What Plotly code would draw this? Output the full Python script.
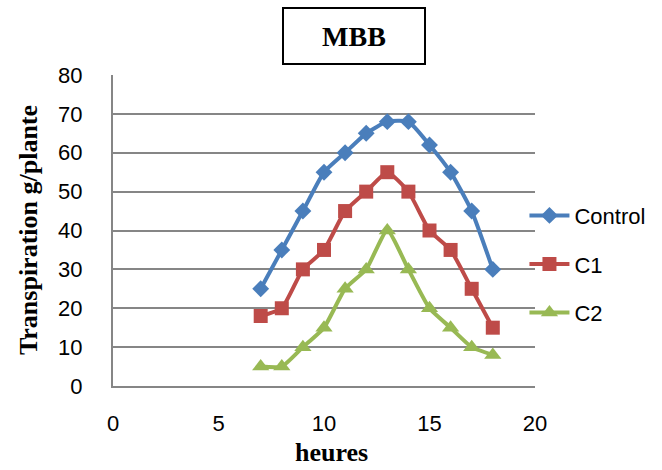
import plotly.graph_objects as go

hours = [7, 8, 9, 10, 11, 12, 13, 14, 15, 16, 17, 18]
control = [25, 35, 45, 55, 60, 65, 68, 68, 62, 55, 45, 30]
c1 = [18, 20, 30, 35, 45, 50, 55, 50, 40, 35, 25, 15]
c2 = [5, 5, 10, 15, 25, 30, 40, 30, 20, 15, 10, 8]
series_names = ["Control", "C1", "C2"]
x_ticks = [0, 5, 10, 15, 20]
y_ticks = [0, 10, 20, 30, 40, 50, 60, 70, 80]

colors = ["#4A7EBB", "#BE4B48", "#98B954"]
symbols = ["diamond", "square", "triangle-up"]
sizes = [13, 14, 15]

fig = go.Figure()
for i, (name, vals) in enumerate(zip(series_names, [control, c1, c2])):
    fig.add_trace(go.Scatter(
        x=hours, y=vals, name=name, mode="lines+markers",
        line=dict(color=colors[i], width=4, shape="spline", smoothing=0.5),
        marker=dict(symbol=symbols[i], size=sizes[i], color=colors[i]),
        legendgroup=name,
    ))

tick_font = dict(family="Liberation Sans", size=22, color="black")
fig.update_layout(
    width=662, height=470,
    margin=dict(l=113, r=124, t=75, b=84),
    paper_bgcolor="white", plot_bgcolor="white",
    showlegend=True,
    legend=dict(x=0.975, y=0.392, xanchor="left", yanchor="middle",
                font=dict(family="Liberation Sans", size=22, color="black"),
                tracegroupgap=17, traceorder="grouped", itemwidth=40,
                bgcolor="rgba(0,0,0,0)"),
    xaxis=dict(range=[0, 20], tickvals=x_ticks, showgrid=False, zeroline=False,
               showline=True, linecolor="#868686", linewidth=2,
               ticks="outside", ticklen=17, tickcolor="rgba(0,0,0,0)",
               tickfont=tick_font),
    yaxis=dict(range=[0, 80], tickvals=y_ticks, showgrid=True, gridcolor="#868686",
               gridwidth=2, zeroline=False, showline=True, linecolor="#868686",
               linewidth=2, ticks="outside", ticklen=24, tickcolor="rgba(0,0,0,0)",
               tickfont=tick_font),
    annotations=[
        dict(text="<b>MBB</b>", xref="paper", yref="paper", x=0.572, y=1.125,
             showarrow=False, font=dict(family="Liberation Serif", size=28, color="black"),
             bordercolor="black", borderwidth=2, bgcolor="white", width=138, height=52,
             xanchor="center", yanchor="middle"),
        dict(text="<b>Transpiration g/plante</b>", xref="paper", yref="paper",
             x=-0.2, y=0.5, textangle=-90, showarrow=False,
             font=dict(family="Liberation Serif", size=26, color="black"),
             xanchor="center", yanchor="middle"),
        dict(text="<b>heures</b>", xref="paper", yref="paper", x=0.518, y=-0.215,
             showarrow=False, font=dict(family="Liberation Serif", size=26, color="black"),
             xanchor="center", yanchor="middle"),
    ],
)

fig.write_html("out.html")
